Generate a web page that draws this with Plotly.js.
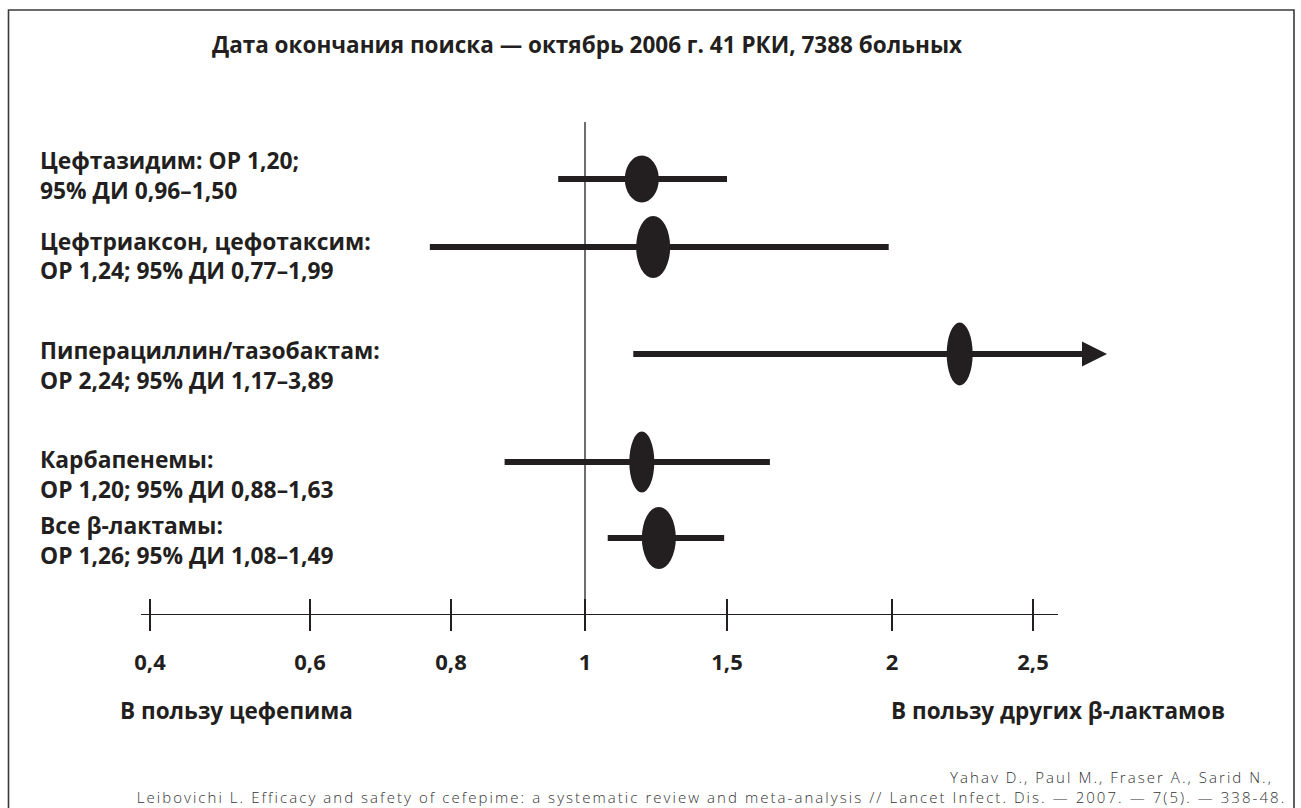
<!DOCTYPE html>
<html><head><meta charset="utf-8">
<script src="https://cdn.plot.ly/plotly-3.0.1.min.js"></script>
<style>
html,body{margin:0;padding:0;background:#fff}
#chart{width:1301px;height:808px}
#chart .annotation[data-index="12"] text, #chart .annotation[data-index="13"] text{letter-spacing:2.05px}
</style>
</head><body><div id="chart"></div>
<script>
// ---- data ----
const studies = ['Цефтазидим','Цефтриаксон, цефотаксим','Пиперациллин/тазобактам','Карбапенемы','Все β-лактамы'];
const orValues = [1.20, 1.24, 2.24, 1.20, 1.26];
const ciLow = [0.96, 0.77, 1.17, 0.88, 1.08];
const ciHigh = [1.50, 1.99, 3.89, 1.63, 1.49];
const labelLine1 = ['Цефтазидим: ОР 1,20;','Цефтриаксон, цефотаксим:','Пиперациллин/тазобактам:','Карбапенемы:','Все β-лактамы:'];
const labelLine2 = ['95% ДИ 0,96–1,50','ОР 1,24; 95% ДИ 0,77–1,99','ОР 2,24; 95% ДИ 1,17–3,89','ОР 1,20; 95% ДИ 0,88–1,63','ОР 1,26; 95% ДИ 1,08–1,49'];
const tickValues = [0.4, 0.6, 0.8, 1, 1.5, 2, 2.5];
const tickLabels = ['0,4','0,6','0,8','1','1,5','2','2,5'];
const titleText = 'Дата окончания поиска — октябрь 2006 г. 41 РКИ, 7388 больных';
const leftNote = 'В пользу цефепима';
const rightNote = 'В пользу других β-лактамов';
const sourceLine1 = 'Yahav D., Paul M., Fraser A., Sarid N.,';
const sourceLine2 = 'Leibovichi L. Efficacy and safety of cefepime: a systematic review and meta-analysis // Lancet Infect. Dis. — 2007. — 7(5). — 338-48.';

// ---- layout (positions / sizes / styles) ----
const W = 1301, H = 808;
const tickPx = [150, 310, 451, 585, 727, 892, 1033]; // axis scale knots (pixel units)
const rowY = [179, 247, 354, 462, 538];
const labelY = [[160,190],[241,270],[350,380],[459,489],[525,555]];
const markerW = [34, 34, 26, 25, 34];
const markerH = [47, 62, 63, 61, 62];
const axisY = 614, axisX0 = 141, axisX1 = 1058;
const arrowTip = 1107, arrowLen = 25, arrowHalf = 12.5;
const INK = '#231f20';
const FAM = 'Open Sans, Noto Sans, sans-serif';
const labelFont = {family:FAM, size:22.8, weight:700, color:INK};
const noteFont = {family:FAM, size:22.5, weight:700, color:INK};
const tickFont = {family:FAM, size:22, weight:700, color:INK};
const srcFont = {family:FAM, size:15, weight:300, color:'#333'};

// piecewise axis scale: value -> axis unit
function toPx(v){
  const n = tickValues.length;
  let i = 0;
  if (v <= tickValues[0]) i = 0;
  else if (v >= tickValues[n-1]) i = n-2;
  else { while (v > tickValues[i+1]) i++; }
  const t = (v - tickValues[i]) / (tickValues[i+1] - tickValues[i]);
  return tickPx[i] + t * (tickPx[i+1] - tickPx[i]);
}
const axisMax = tickValues[tickValues.length-1];

// CI lines
const lx = [], ly = [];
orValues.forEach((v, i) => {
  const hiPx = ciHigh[i] > axisMax ? arrowTip - arrowLen : toPx(ciHigh[i]);
  lx.push(toPx(ciLow[i]), hiPx, null);
  ly.push(rowY[i], rowY[i], null);
});

const traces = [
  {type:'scatter', mode:'lines', x:lx, y:ly, xaxis:'x', yaxis:'y',
   line:{color:INK, width:6}, hoverinfo:'skip', showlegend:false, connectgaps:false},
  {type:'scatter', mode:'markers', x:[600], y:[-100], xaxis:'x2', yaxis:'y',
   marker:{size:1, opacity:0}, hoverinfo:'skip', showlegend:false},
  {type:'scatter', mode:'markers', x:[600], y:[-100], xaxis:'x3', yaxis:'y',
   marker:{size:1, opacity:0}, hoverinfo:'skip', showlegend:false}
];

const shapes = [
  {type:'rect', xref:'paper', yref:'paper', x0:8.5/W, x1:1294/W, y0:-0.05, y1:1-10/H,
   line:{color:'#3a3a3a', width:1.6}, fillcolor:'rgba(0,0,0,0)', layer:'below'},
  {type:'line', xref:'x', yref:'y', x0:toPx(1), x1:toPx(1), y0:122, y1:630,
   line:{color:INK, width:1.3}}
];
orValues.forEach((v, i) => {
  shapes.push({type:'circle', xref:'x', yref:'y', xsizemode:'pixel', ysizemode:'pixel',
    xanchor:toPx(v), yanchor:rowY[i], x0:-markerW[i]/2, x1:markerW[i]/2,
    y0:-markerH[i]/2, y1:markerH[i]/2, fillcolor:INK, line:{width:0}});
  if (ciHigh[i] > axisMax) {
    shapes.push({type:'path', xref:'x', yref:'y',
      path:`M ${arrowTip-arrowLen},${rowY[i]-arrowHalf} L ${arrowTip},${rowY[i]} L ${arrowTip-arrowLen},${rowY[i]+arrowHalf} Z`,
      fillcolor:INK, line:{width:0}});
  }
});

const annotations = [];
studies.forEach((s, i) => {
  annotations.push({xref:'x', yref:'y', x:38, y:labelY[i][0], text:labelLine1[i], showarrow:false,
    xanchor:'left', yanchor:'middle', font:labelFont});
  annotations.push({xref:'x', yref:'y', x:38, y:labelY[i][1], text:labelLine2[i], showarrow:false,
    xanchor:'left', yanchor:'middle', font:labelFont});
});
annotations.push({xref:'x', yref:'y', x:118, y:710, text:leftNote, showarrow:false, xanchor:'left', yanchor:'middle', font:noteFont});
annotations.push({xref:'x', yref:'y', x:1227, y:710, text:rightNote, showarrow:false, xanchor:'right', yanchor:'middle', font:noteFont});
// source lines centred so that the added letter spacing spreads evenly
annotations.push({xref:'x', yref:'y', x:1111, y:777, text:sourceLine1, showarrow:false, xanchor:'center', yanchor:'middle', font:srcFont});
annotations.push({xref:'x', yref:'y', x:711.5, y:797, text:sourceLine2, showarrow:false, xanchor:'center', yanchor:'middle', font:srcFont});

const axTicks = tickValues.map(toPx);
const layout = {
  width:W, height:H, margin:{l:0,r:0,t:0,b:0,pad:0},
  paper_bgcolor:'#fff', plot_bgcolor:'rgba(0,0,0,0)', showlegend:false,
  title:{text:titleText, x:587/W, xanchor:'center', y:1-45/H, yanchor:'middle',
    font:{family:FAM, size:22.5, weight:700, color:INK}},
  xaxis:{range:[0,W], visible:false, fixedrange:true},
  yaxis:{range:[H,0], visible:false, fixedrange:true},
  xaxis2:{domain:[axisX0/W, axisX1/W], range:[axisX0, axisX1], anchor:'free', position:(H-axisY)/H,
    showline:true, linecolor:INK, linewidth:1.3, ticks:'outside', ticklen:16, tickwidth:1.3, tickcolor:INK,
    tickmode:'array', tickvals:axTicks, ticktext:tickLabels, tickfont:tickFont, ticklabelstandoff:12,
    showgrid:false, zeroline:false, fixedrange:true},
  xaxis3:{overlaying:'x2', range:[axisX0, axisX1], anchor:'free', position:(H-axisY)/H,
    showline:false, ticks:'inside', ticklen:15, tickwidth:1.3, tickcolor:INK,
    tickmode:'array', tickvals:axTicks, showticklabels:false, showgrid:false, zeroline:false, fixedrange:true},
  shapes:shapes, annotations:annotations
};
Plotly.newPlot('chart', traces, layout, {displayModeBar:false, staticPlot:true});
</script>
</body></html>
